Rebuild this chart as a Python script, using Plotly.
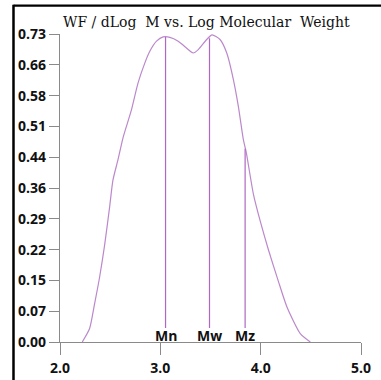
import plotly.graph_objects as go

# ---- data ----
log_mw = [2.222, 2.295, 2.345, 2.395, 2.445, 2.495, 2.528, 2.578, 2.628, 2.712,
          2.778, 2.845, 2.895, 2.962, 3.028, 3.095, 3.178, 3.245, 3.328, 3.378,
          3.462, 3.515, 3.595, 3.662, 3.728, 3.778, 3.828, 3.855, 3.928, 3.995,
          4.078, 4.175, 4.262, 4.395, 4.495]
wf = [0.000, 0.032, 0.091, 0.154, 0.230, 0.321, 0.384, 0.432, 0.484, 0.550,
      0.614, 0.661, 0.689, 0.713, 0.723, 0.722, 0.713, 0.700, 0.685, 0.693,
      0.717, 0.728, 0.717, 0.685, 0.622, 0.558, 0.479, 0.451, 0.350, 0.287,
      0.218, 0.145, 0.083, 0.020, 0.000]

avg_names = ["Mn", "Mw", "Mz"]
avg_x = [3.052, 3.49, 3.845]
avg_top = [0.723, 0.720, 0.458]
avg_bottom = 0.033
label_y = 0.016

y_tickvals = [0.0, 0.073, 0.146, 0.219, 0.292, 0.365, 0.438, 0.511, 0.584, 0.657, 0.73]
y_ticktext = ["0.00", "0.07", "0.15", "0.22", "0.29", "0.36", "0.44", "0.51", "0.58", "0.66", "0.73"]
x_tickvals = [2.0, 3.0, 4.0, 5.0]
x_ticktext = ["2.0", "3.0", "4.0", "5.0"]

title_text = "WF / dLog&nbsp;&nbsp;M vs. Log Molecular&nbsp;&nbsp;Weight"

curve_color = "#bb88cc"
line_color = "#b066c4"
axis_color = "#8a8a8a"
tick_font = dict(family="Open Sans", size=14, color="#111111", weight="bold")

fig = go.Figure()
fig.add_trace(go.Scatter(x=log_mw, y=wf, mode="lines",
                         line=dict(color=curve_color, width=1.2, shape="spline", smoothing=0.6),
                         hoverinfo="skip", showlegend=False))
for name, xv, top in zip(avg_names, avg_x, avg_top):
    fig.add_trace(go.Scatter(x=[xv, xv], y=[avg_bottom, top], mode="lines",
                             line=dict(color=line_color, width=1.2),
                             hoverinfo="skip", showlegend=False))
    fig.add_annotation(x=xv, y=label_y, text=name, showarrow=False,
                       xanchor="center", yanchor="middle",
                       font=dict(family="Open Sans", size=14, color="#111111", weight="bold"))

fig.add_annotation(x=0.004, y=1.039, xref="paper", yref="paper", text=title_text,
                   showarrow=False, xanchor="left", yanchor="middle",
                   font=dict(family="DejaVu Serif", size=14, color="#111111"))

# black frame lines (left and top)
fig.add_shape(type="line", xref="paper", yref="paper", x0=-0.1545, x1=-0.1545, y0=-0.2, y1=1.095,
              line=dict(color="black", width=2.5))
fig.add_shape(type="line", xref="paper", yref="paper", x0=-0.1545, x1=1.2, y0=1.092, y1=1.092,
              line=dict(color="black", width=2.2))

fig.update_xaxes(range=[2.0, 5.0], tickvals=x_tickvals, ticktext=x_ticktext,
                 showgrid=False, zeroline=False, showline=True, linecolor=axis_color, linewidth=1.3,
                 ticks="outside", ticklen=12, tickcolor=axis_color, tickwidth=1.3,
                 tickfont=tick_font, automargin=False, ticklabelstandoff=1)
fig.update_yaxes(range=[0, 0.73], tickvals=y_tickvals, ticktext=y_ticktext,
                 showgrid=False, zeroline=False, showline=True, linecolor=axis_color, linewidth=1.3,
                 ticks="outside", ticklen=10, tickcolor=axis_color, tickwidth=1.3,
                 tickfont=tick_font, automargin=False)

fig.update_layout(width=381, height=380, autosize=False,
                  margin=dict(l=60, r=20, t=34, b=38, autoexpand=False),
                  paper_bgcolor="white", plot_bgcolor="white")

fig.write_html("out.html")
